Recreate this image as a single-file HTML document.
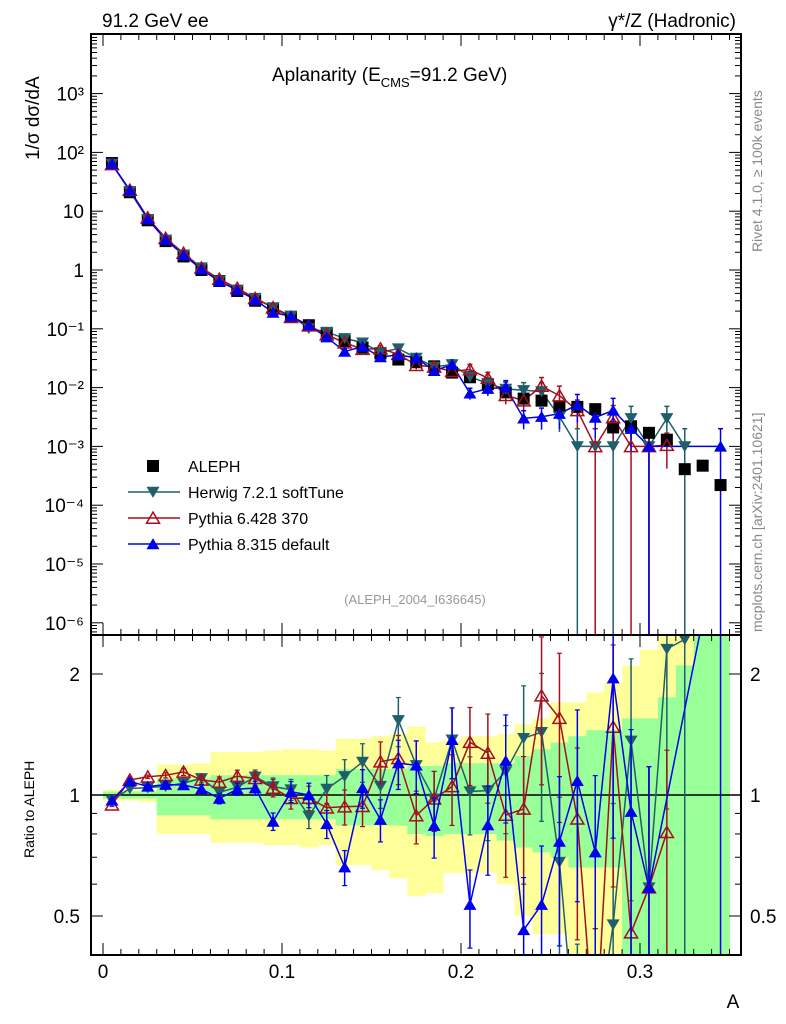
<!DOCTYPE html>
<html><head><meta charset="utf-8">
<style>
html,body{margin:0;padding:0;background:#fff;}
svg{display:block;font-family:"Liberation Sans",sans-serif;}
</style></head>
<body>
<svg id="chart" width="786" height="1024" viewBox="0 0 786 1024" xmlns="http://www.w3.org/2000/svg">
<defs>
<clipPath id="clipMain"><rect x="91" y="34" width="650" height="601"/></clipPath>
<clipPath id="clipRatio"><rect x="91" y="635" width="650" height="320"/></clipPath>
</defs>
<g id="bands" clip-path="url(#clipRatio)"></g>
<g id="ticks"></g>
<g id="series-main" clip-path="url(#clipMain)"></g>
<g id="series-ratio" clip-path="url(#clipRatio)"></g>
<rect x="91" y="34" width="650" height="601" fill="none" stroke="#000" stroke-width="2"/>
<rect x="91" y="635" width="650" height="320" fill="none" stroke="#000" stroke-width="2"/>
<text x="102" y="27" font-size="19">91.2 GeV ee</text>
<text x="736" y="27" font-size="19" text-anchor="end">γ*/Z (Hadronic)</text>
<text x="272" y="81" font-size="19">Aplanarity (E<tspan font-size="13" dy="6">CMS</tspan><tspan dy="-6">=91.2 GeV)</tspan></text>
<text transform="translate(39,160) rotate(-90)" font-size="19">1/σ  dσ/dA</text>
<text transform="translate(34,858) rotate(-90)" font-size="14">Ratio to ALEPH</text>
<text x="733" y="1008" font-size="19" text-anchor="middle">A</text>
<text x="415" y="604" font-size="13" fill="#999" text-anchor="middle">(ALEPH_2004_I636645)</text>
<text transform="translate(762,252) rotate(-90)" font-size="14" fill="#888">Rivet 4.1.0, ≥ 100k events</text>
<text transform="translate(762,632) rotate(-90)" font-size="14" fill="#888">mcplots.cern.ch [arXiv:2401.10621]</text>
<g id="legend"></g>
</svg>
<script>
const bins = [0.005,0.015,0.025,0.035,0.045,0.055,0.065,0.075,0.085,0.095,0.105,0.115,0.125,0.135,0.145,0.155,0.165,0.175,0.185,0.195,0.205,0.215,0.225,0.235,0.245,0.255,0.265,0.275,0.285,0.295,0.305,0.315,0.325,0.335,0.345];
const aleph = [66,21,7.0,3.1,1.7,1.0,0.65,0.44,0.30,0.22,0.16,0.115,0.085,0.062,0.048,0.038,0.030,0.027,0.023,0.018,0.015,0.0114,0.0083,0.0065,0.006,0.0047,0.0047,0.0043,0.0021,0.0022,0.0017,0.0013,0.00041,0.00047,0.00022];
const herwig = [64,21.8,7.3,3.26,1.82,1.10,0.66,0.46,0.333,0.231,0.165,0.102,0.088,0.069,0.058,0.040,0.046,0.032,0.0225,0.0247,0.0153,0.0117,0.0095,0.009,0.0086,0.0032,0.001,0.001,0.001,0.003,0.001,0.003,0.001,null,null];
const pythia6 = [62.4,22.9,7.77,3.47,1.94,1.09,0.70,0.49,0.33,0.229,0.157,0.113,0.079,0.058,0.045,0.046,0.037,0.024,0.0225,0.0189,0.0203,0.0145,0.0074,0.006,0.0106,0.0073,0.0041,0.001,0.0031,0.001,0.001,0.00105,null,null,null];
const pythia8 = [64,22.7,7.35,3.29,1.80,1.035,0.637,0.455,0.312,0.189,0.163,0.115,0.072,0.041,0.050,0.033,0.036,0.032,0.0193,0.0247,0.0080,0.0096,0.0101,0.0030,0.0032,0.0036,0.0051,0.0031,0.0041,0.002,0.001,null,null,null,0.001];
const mcRelErr = [0.01,0.01,0.01,0.015,0.02,0.025,0.03,0.035,0.04,0.05,0.06,0.07,0.08,0.1,0.11,0.12,0.14,0.15,0.17,0.2,0.22,0.25,0.3,0.35,0.4,0.45,0.5,0.55,0.6,0.6,0.6,0.6,0.6,0.6,0.6];
const statUp = [1.02,1.02,1.02,1.10,1.10,1.10,1.12,1.12,1.12,1.12,1.12,1.12,1.12,1.16,1.16,1.16,1.16,1.18,1.18,1.20,1.20,1.20,1.20,1.25,1.30,1.35,1.40,1.45,1.45,1.55,1.55,1.75,2.1,2.6,2.6];
const statDn = [0.98,0.98,0.98,0.89,0.89,0.89,0.87,0.87,0.87,0.87,0.87,0.87,0.87,0.84,0.84,0.84,0.84,0.80,0.79,0.80,0.80,0.80,0.77,0.74,0.72,0.70,0.66,0.66,0.66,0.38,0.38,0.38,0.38,0.38,0.38];
const totUp = [1.03,1.03,1.03,1.19,1.19,1.20,1.28,1.28,1.28,1.29,1.30,1.30,1.29,1.38,1.38,1.40,1.42,1.48,1.35,1.37,1.40,1.40,1.42,1.50,1.55,1.70,1.70,1.80,1.90,2.1,2.3,2.6,2.6,2.6,2.6];
const totDn = [0.97,0.97,0.96,0.80,0.80,0.80,0.76,0.76,0.76,0.75,0.75,0.74,0.75,0.67,0.67,0.65,0.62,0.56,0.57,0.64,0.64,0.64,0.60,0.50,0.45,0.45,0.38,0.38,0.38,0.38,0.38,0.38,0.38,0.38,0.38];
const logTicks = [-6,-5,-4,-3,-2,-1,0,1,2,3];
const logTickLabels = ["10⁻⁶","10⁻⁵","10⁻⁴","10⁻³","10⁻²","10⁻¹","1","10","10²","10³"];
const xTicks = [0,0.1,0.2,0.3];
const xTickLabels = ["0","0.1","0.2","0.3"];
const ratioTicks = [0.5,1,2];
const ratioTickLabels = ["0.5","1","2"];

const NS="http://www.w3.org/2000/svg";
const X = v => 103 + 1790*v;
const Y = v => 270 - 58.8*Math.log10(v);
const R = v => 795 - 121*Math.log2(v);
const BW = 0.01;
function mk(parent, tag, attrs){const e=document.createElementNS(NS,tag);for(const k in attrs)e.setAttribute(k,attrs[k]);parent.appendChild(e);return e;}
function relErr(v,i){ return v<=0.001 ? 1 : mcRelErr[i]; }

const gB=document.getElementById('bands');
bins.forEach((b,i)=>{
  const r1=mk(gB,'rect',{x:X(b-BW/2),y:R(totUp[i]),width:X(b+BW/2)-X(b-BW/2)+0.5,height:R(totDn[i])-R(totUp[i]),fill:'#ffff99'});
  
  
});
bins.forEach((b,i)=>{
  const r2=mk(gB,'rect',{x:X(b-BW/2),y:R(statUp[i]),width:X(b+BW/2)-X(b-BW/2)+0.5,height:R(statDn[i])-R(statUp[i]),fill:'#99ff99'});
  
  
});

const gT=document.getElementById('ticks');
function line(g,x1,y1,x2,y2,c,w){return mk(g,'line',{x1,y1,x2,y2,stroke:c||'#000','stroke-width':w||1});}
for(let d=-7;d<=4;d++){for(let m=1;m<10;m++){const v=m*Math.pow(10,d);const y=Y(v);if(y<35||y>634)continue;const L=m===1?12:6;line(gT,91,y,91+L,y);line(gT,741,y,741-L,y);}}
logTicks.forEach((t,i)=>{const tx=mk(gT,'text',{x:84,y:Y(Math.pow(10,t))+7,'font-size':19,'text-anchor':'end'});tx.textContent=logTickLabels[i];
  
  });
for(let k=0;k<=35;k++){const v=k*0.01;const x=X(v);const L=(k%10===0)?12:6;line(gT,x,635,x,635-L);line(gT,x,34,x,34+L);line(gT,x,955,x,955-L);line(gT,x,635,x,635+L);}
xTicks.forEach((t,i)=>{const tx=mk(gT,'text',{x:X(t),y:978,'font-size':19,'text-anchor':'middle'});tx.textContent=xTickLabels[i];
  
  });
[0.4,0.5,0.6,0.7,0.8,0.9,1,2].forEach(v=>{const y=R(v);const L=(v===0.5||v===1||v===2)?12:6;line(gT,91,y,91+L,y);line(gT,741,y,741-L,y);});
ratioTicks.forEach((t,i)=>{
  const a=mk(gT,'text',{x:80,y:R(t)+7,'font-size':19,'text-anchor':'end'});a.textContent=ratioTickLabels[i];
  
  
  const b=mk(gT,'text',{x:750,y:R(t)+7,'font-size':19});b.textContent=ratioTickLabels[i];
  
  
});

function marker(g,type,x,y,c,s){
  s=s||6;
  if(type==='square') return mk(g,'rect',{x:x-s,y:y-s,width:2*s,height:2*s,fill:c});
  if(type==='down') return mk(g,'polygon',{points:`${x-s},${y-s*0.8} ${x+s},${y-s*0.8} ${x},${y+s*0.9}`,fill:c});
  if(type==='upopen') return mk(g,'polygon',{points:`${x-s},${y+s*0.8} ${x+s},${y+s*0.8} ${x},${y-s*0.9}`,fill:'none',stroke:c,'stroke-width':1.5});
  return mk(g,'polygon',{points:`${x-s},${y+s*0.8} ${x+s},${y+s*0.8} ${x},${y-s*0.9}`,fill:c});
}
const series=[
  {name:'herwig',vals:herwig,color:'#1e5f6b',type:'down'},
  {name:'pythia6',vals:pythia6,color:'#a50f1f',type:'upopen'},
  {name:'pythia8',vals:pythia8,color:'#0000ee',type:'up'}
];
const gM=document.getElementById('series-main');
const gR=document.getElementById('series-ratio');
series.forEach(s=>{
  const g=mk(gM,'g',{});
  
  
  const pts=[];
  s.vals.forEach((v,i)=>{ if(v==null)return; pts.push(X(bins[i])+','+Y(v)); });
  mk(g,'polyline',{points:pts.join(' '),fill:'none',stroke:s.color,'stroke-width':1.5});
  s.vals.forEach((v,i)=>{ if(v==null)return;
    const e=v*relErr(v,i); const lo=v-e>0?Y(v-e):700; const hi=Y(v+e);
    line(g,X(bins[i]),hi,X(bins[i]),lo,s.color,1.5);
    line(g,X(bins[i])-2.5,hi,X(bins[i])+2.5,hi,s.color,1.5);
  });
});
const gD=mk(gM,'g',{});


aleph.forEach((v,i)=>{const m=marker(gD,'square',X(bins[i]),Y(v),'#000',6);
  
  });
series.forEach(s=>{
  s.vals.forEach((v,i)=>{ if(v==null)return; const m=marker(gM,s.type,X(bins[i]),Y(v),s.color,6.5);
    
    });
});
line(gR,91,R(1),741,R(1),'#000',1.5);
series.forEach(s=>{
  const g=mk(gR,'g',{});
  
  
  const pts=[];
  s.vals.forEach((v,i)=>{ if(v==null)return; pts.push(X(bins[i])+','+R(v/aleph[i])); });
  mk(g,'polyline',{points:pts.join(' '),fill:'none',stroke:s.color,'stroke-width':1.5});
  s.vals.forEach((v,i)=>{ if(v==null)return;
    const r=v/aleph[i]; const e=r*relErr(v,i); const lo=r-e>0.05?R(r-e):1000; const hi=R(r+e);
    line(g,X(bins[i]),hi,X(bins[i]),lo,s.color,1.5);
    line(g,X(bins[i])-2.5,hi,X(bins[i])+2.5,hi,s.color,1.2);
    if(lo<1000) line(g,X(bins[i])-2.5,lo,X(bins[i])+2.5,lo,s.color,1.2);
    const m=marker(g,s.type,X(bins[i]),R(r),s.color,6.5);
    
    
  });
});
const gL=document.getElementById('legend');
const leg=[{t:'ALEPH',type:'square',c:'#000',line:false},{t:'Herwig 7.2.1 softTune',type:'down',c:'#1e5f6b',line:true},{t:'Pythia 6.428 370',type:'upopen',c:'#a50f1f',line:true},{t:'Pythia 8.315 default',type:'up',c:'#0000ee',line:true}];
leg.forEach((l,i)=>{
  const y=466+i*26;
  const g=mk(gL,'g',{});
  
  
  if(l.line) line(g,128,y,180,y,l.c,1.5);
  marker(g,l.type,153,y,l.c,l.type==='square'?6:6.5);
  const t=mk(g,'text',{x:188,y:y+6,'font-size':16});t.textContent=l.t;
});
</script>
</body></html>
